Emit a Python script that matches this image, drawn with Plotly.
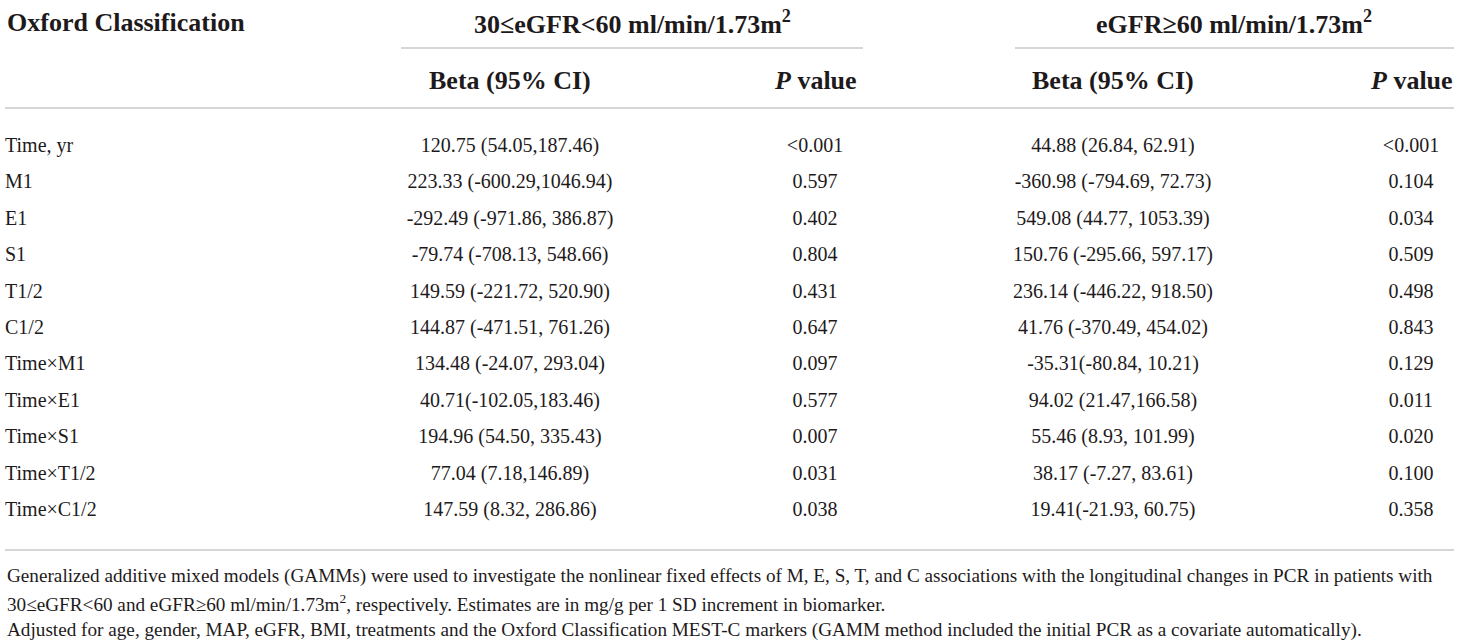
import plotly.graph_objects as go

# table content
terms = ["Time, yr", "M1", "E1", "S1", "T1/2", "C1/2",
         "Time×M1", "Time×E1", "Time×S1", "Time×T1/2", "Time×C1/2"]
beta_30_60 = ["120.75 (54.05,187.46)", "223.33 (-600.29,1046.94)", "-292.49 (-971.86, 386.87)",
              "-79.74 (-708.13, 548.66)", "149.59 (-221.72, 520.90)", "144.87 (-471.51, 761.26)",
              "134.48 (-24.07, 293.04)", "40.71(-102.05,183.46)", "194.96 (54.50, 335.43)",
              "77.04 (7.18,146.89)", "147.59 (8.32, 286.86)"]
p_30_60 = ["<0.001", "0.597", "0.402", "0.804", "0.431", "0.647",
           "0.097", "0.577", "0.007", "0.031", "0.038"]
beta_60 = ["44.88 (26.84, 62.91)", "-360.98 (-794.69, 72.73)", "549.08 (44.77, 1053.39)",
           "150.76 (-295.66, 597.17)", "236.14 (-446.22, 918.50)", "41.76 (-370.49, 454.02)",
           "-35.31(-80.84, 10.21)", "94.02 (21.47,166.58)", "55.46 (8.93, 101.99)",
           "38.17 (-7.27, 83.61)", "19.41(-21.93, 60.75)"]
p_60 = ["<0.001", "0.104", "0.034", "0.509", "0.498", "0.843",
        "0.129", "0.011", "0.020", "0.100", "0.358"]

group_titles = ["30≤eGFR<60 ml/min/1.73m<sup>2</sup>", "eGFR≥60 ml/min/1.73m<sup>2</sup>"]
sub_titles = ["Beta (95% CI)", "<i>P</i> value", "Beta (95% CI)", "<i>P</i> value"]
footnotes = [
    "Generalized additive mixed models (GAMMs) were used to investigate the nonlinear fixed effects of M, E, S, T, and C "
    "associations with the longitudinal changes in PCR in patients with",
    "30≤eGFR<60 and eGFR≥60 ml/min/1.73m<sup>2</sup>, respectively. Estimates are in mg/g per 1 SD increment in biomarker.",
    "Adjusted for age, gender, MAP, eGFR, BMI, treatments and the Oxford Classification MEST-C markers "
    "(GAMM method included the initial PCR as a covariate automatically).",
]


def esc(s):
    return s.replace("<0", "&lt;0").replace("<6", "&lt;6")


FONT = "Liberation Serif"
INK = "#1e1a1b"
RULE = "#c9c9c9"

col_x = [510, 815, 1113, 1411]  # column centres
group_x = [632, 1234]
group_span = [(401, 863), (1015, 1454)]
rows = list(range(len(terms)))

fig = go.Figure()

fig.add_trace(go.Scatter(
    x=[5] * len(terms), y=rows, text=terms, mode="text",
    textposition="middle right", textfont=dict(family=FONT, size=20, color=INK),
    hoverinfo="skip", showlegend=False))

for cx, col in zip(col_x, [beta_30_60, p_30_60, beta_60, p_60]):
    fig.add_trace(go.Scatter(
        x=[cx] * len(col), y=rows, text=[esc(v) for v in col], mode="text",
        textposition="middle center", textfont=dict(family=FONT, size=20, color=INK),
        hoverinfo="skip", showlegend=False))

head_font = dict(family=FONT, size=26, color=INK)
fig.add_annotation(x=5, y=-3.43, text="<b>Oxford Classification</b>", xanchor="left",
                   showarrow=False, font=head_font)
for gx, t in zip(group_x, group_titles):
    fig.add_annotation(x=gx, y=-3.43, text="<b>" + esc(t) + "</b>", showarrow=False, font=head_font)
for cx, t in zip(col_x, sub_titles):
    fig.add_annotation(x=cx, y=-1.84, text="<b>" + t + "</b>", showarrow=False, font=head_font)

for i, t in enumerate(footnotes):
    fig.add_annotation(x=5, y=11.8 + i * 0.74, text=esc(t), xanchor="left", showarrow=False,
                       font=dict(family=FONT, size=19.2, color=INK))

line = dict(color=RULE, width=1.5)
for x0, x1 in group_span:
    fig.add_shape(type="line", x0=x0, x1=x1, y0=-2.72, y1=-2.72, line=line)
fig.add_shape(type="line", x0=5, x1=1454, y0=-1.07, y1=-1.07, line=line)
fig.add_shape(type="line", x0=5, x1=1454, y0=11.07, y1=11.07, line=line)

fig.update_xaxes(range=[0, 1460], visible=False, fixedrange=True)
fig.update_yaxes(range=[13.6, -4.04], visible=False, fixedrange=True)
fig.update_layout(width=1460, height=642, margin=dict(l=0, r=0, t=0, b=0),
                  plot_bgcolor="white", paper_bgcolor="white")

fig.write_html("out.html", config={"displayModeBar": False},
               post_script="document.body.style.margin='0';")
